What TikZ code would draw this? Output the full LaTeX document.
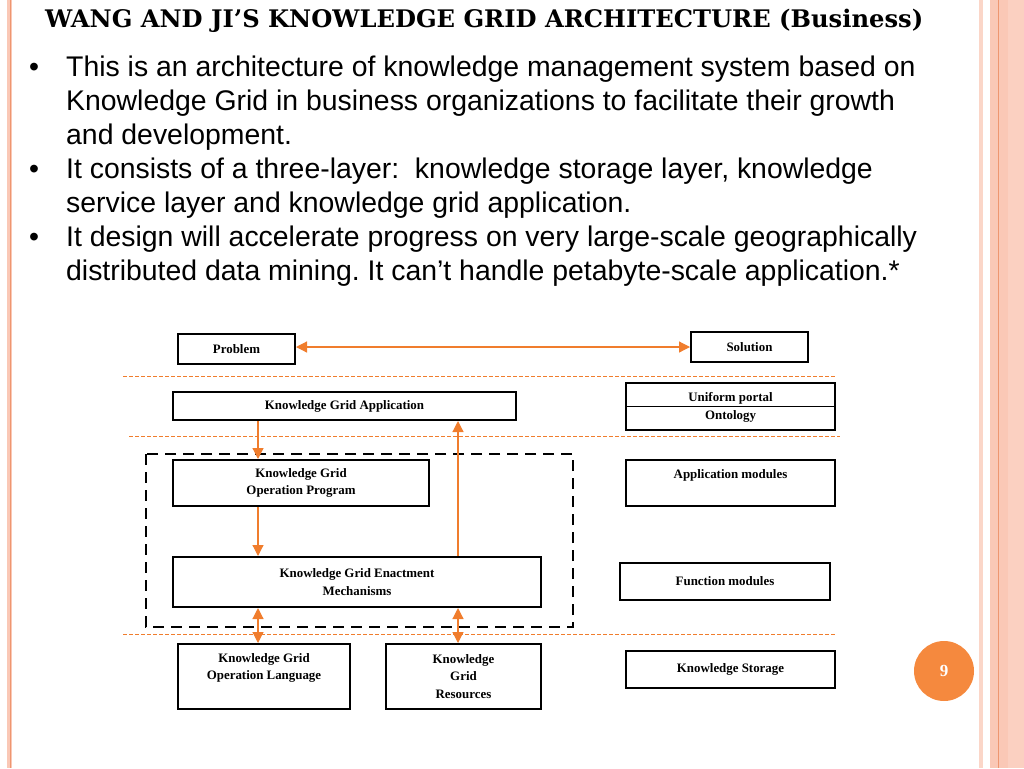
\documentclass[tikz,border=0pt]{standalone}
\usepackage{fontspec}
\setmainfont{Liberation Serif}
\newfontfamily\slidesans{Liberation Sans}
\newfontfamily\titleserif{DejaVu Serif}
\usetikzlibrary{arrows.meta, positioning}
\definecolor{gridorange}{RGB}{240,125,45}
\definecolor{pagecircle}{RGB}{245,137,62}
\definecolor{borderpink}{RGB}{250,200,182}
\definecolor{borderline}{RGB}{238,150,112}
\newcommand{\boxfont}{\fontsize{12.9}{17.8}\selectfont\bfseries}
\newcommand{\bodyfont}{\slidesans\fontsize{28.4}{34}\selectfont}
\frenchspacing
\tikzset{
	layerbox/.style={draw, line width=2pt, fill=white, inner sep=2pt, font=\boxfont, align=center},
	toptext/.style={anchor=north, inner sep=0pt, font=\boxfont, align=center, yshift=-10pt},
	flow/.style={draw=gridorange, line width=1.2pt, -{Triangle[length=11pt,width=11pt]}},
	twoway/.style={flow, {Triangle[length=11pt,width=11pt]}-{Triangle[length=11pt,width=11pt]}},
	layerline/.style={draw=gridorange, line width=0.9pt, dash pattern=on 4pt off 2pt},
	bodyline/.style={anchor=base west, inner sep=0pt, font=\bodyfont}
}

\begin{document}
\begin{tikzpicture}[x=1pt, y=-1pt]
	\useasboundingbox (0,0) rectangle (1024,768);
	% slide border
	\fill[borderpink] (7,0) rectangle (12,768);
	\draw[borderline, line width=0.8pt] (10,0) -- (10,768);
	\fill[borderpink!75] (979,0) rectangle (983,768);
	\fill[borderpink] (990,0) rectangle (1024,768);
	\fill[borderpink!85] (1008,0) rectangle (1024,768);
	\draw[borderline, line width=1pt] (998,0) -- (998,768);

	\node[anchor=base west, inner sep=0pt, font=\titleserif\fontsize{24.2}{28}\selectfont\bfseries] (title) at (45,28) {WANG AND JI’S KNOWLEDGE GRID ARCHITECTURE (Business)};

	\node[bodyline] (dot1) at (29,76) {•};
	\node[bodyline] (dot2) at (29,178) {•};
	\node[bodyline] (dot3) at (29,246) {•};
	\node[bodyline] (line1) at (66,76) {This is an architecture of knowledge management system based on};
	\node[bodyline] (line2) at (66,110) {Knowledge Grid in business organizations to facilitate their growth};
	\node[bodyline] (line3) at (66,144) {and development.};
	\node[bodyline] (line4) at (66,178) {It consists of a three-layer:\ \ knowledge storage layer, knowledge};
	\node[bodyline] (line5) at (66,212) {service layer and knowledge grid application.};
	\node[bodyline] (line6) at (66,246) {It design will accelerate progress on very large-scale geographically};
	\node[bodyline] (line7) at (66,280) {distributed data mining. It can’t handle petabyte-scale application.*};

	% layers
	\draw[layerline] (123,376) -- (835,376);
	\draw[layerline] (129,436) -- (840,436);
	\draw[layerline] (123,634) -- (835,634);
	\draw[line width=2.4pt, dash pattern=on 11pt off 7pt] (146,454) rectangle (573,627);

	\coordinate (lanel) at (258,0);
	\coordinate (laner) at (458,0);

	\node[layerbox, minimum width=117pt, minimum height=30pt] (problem) at (236.5,349) {Problem};
	\node[layerbox, minimum width=117pt, minimum height=30pt] (solution) at (749.5,347) {Solution};
	\node[layerbox, minimum width=343pt, minimum height=28pt] (kgapp) at (344.5,406) {Knowledge Grid Application};
	\node[layerbox, minimum width=209pt, minimum height=47pt, label={[toptext, font=\fontsize{12.9}{18}\selectfont\bfseries]north:{Uniform portal\\Ontology}}] (portal) at (730.5,406.5) {};
	\draw[line width=1.2pt] (portal.west) -- (portal.east);
	\node[layerbox, minimum width=256pt, minimum height=46pt] (kgop) at (301,483) {Knowledge Grid\\Operation Program};
	\node[layerbox, minimum width=209pt, minimum height=46pt, label={[toptext]north:Application modules}] (appmod) at (730.5,483) {};
	\node[layerbox, minimum width=368pt, minimum height=50pt] (enact) at (357,582) {Knowledge Grid Enactment\\Mechanisms};
	\node[layerbox, minimum width=210pt, minimum height=37pt] (funcmod) at (725,581.5) {Function modules};
	\node[layerbox, minimum width=172pt, minimum height=65pt, label={[toptext]north:{Knowledge Grid\\Operation Language}}] (kgol) at (264,676.5) {};
	\node[layerbox, minimum width=155pt, minimum height=65pt] (kgres) at (463.5,676.5) {Knowledge\\Grid\\Resources};
	\node[layerbox, minimum width=209pt, minimum height=37pt] (storage) at (730.5,669.5) {Knowledge Storage};

	\draw[twoway] (solution.west -| problem.east) -- (solution.west);
	\draw[flow] (kgapp.south -| lanel) -- (kgop.north -| lanel);
	\draw[flow] (kgop.south -| lanel) -- (enact.north -| lanel);
	\draw[flow] (enact.north -| laner) -- (kgapp.south -| laner);
	\draw[twoway] (enact.south -| lanel) -- (kgol.north -| lanel);
	\draw[twoway] (enact.south -| laner) -- (kgres.north -| laner);

	\node[circle, fill=pagecircle, minimum size=60pt, text=white, font=\fontsize{17}{20}\selectfont\bfseries] (pagenum) at (944,671) {9};
\end{tikzpicture}
\end{document}
